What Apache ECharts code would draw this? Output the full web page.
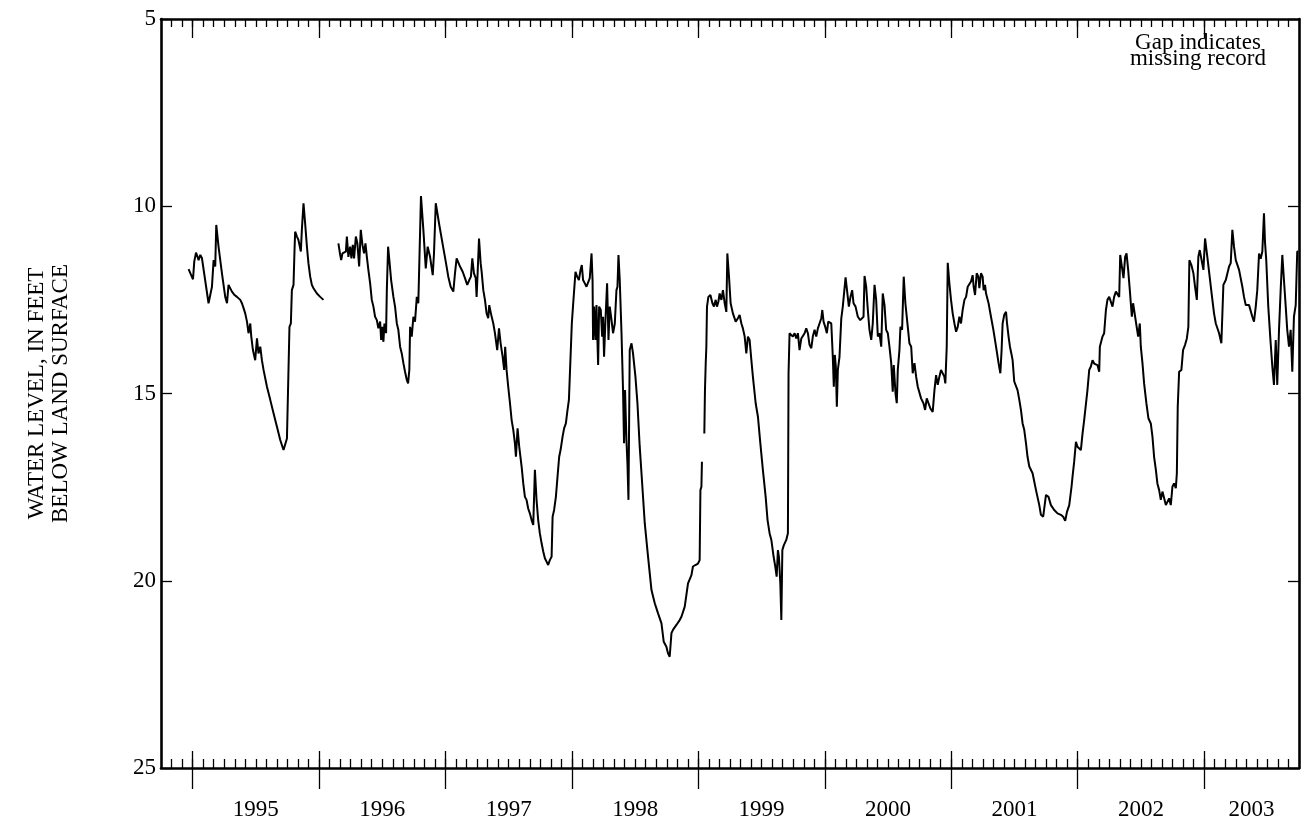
<!DOCTYPE html>
<html>
<head>
<meta charset="utf-8">
<script src="https://cdn.jsdelivr.net/npm/echarts@6/dist/echarts.min.js"></script>
<style>
  html, body { margin: 0; padding: 0; background: #fff; }
  #chart { width: 1302px; height: 826px; }
</style>
</head>
<body>
<div id="chart"></div>
<script>
// Water level, in feet below land surface, by decimal year.
// Three continuous stretches of record; the breaks between them are missing record.
const record1995 = [
  [1994.968,11.68],[1995.003,11.95],[1995.013,11.48],[1995.027,11.24],[1995.039,11.35],[1995.047,11.44],
  [1995.061,11.30],[1995.074,11.39],[1995.126,12.59],[1995.153,12.15],[1995.166,11.44],[1995.179,11.61],
  [1995.187,10.50],[1995.205,11.08],[1995.232,11.79],[1995.258,12.42],[1995.272,12.59],[1995.284,12.10],
  [1995.298,12.15],[1995.311,12.28],[1995.324,12.24],[1995.332,12.37],[1995.351,12.42],[1995.377,12.50],
  [1995.390,12.59],[1995.403,12.72],[1995.416,12.86],[1995.430,13.08],[1995.442,13.39],[1995.456,13.13],
  [1995.464,13.48],[1995.477,13.84],[1995.495,14.11],[1995.509,13.53],[1995.521,13.93],[1995.535,13.75],
  [1995.548,14.11],[1995.561,14.37],[1995.588,14.82],[1995.614,15.17],[1995.640,15.53],[1995.667,15.89],
  [1995.693,16.24],[1995.719,16.51],[1995.732,16.55],[1995.746,16.20],[1995.758,16.15],[1995.766,13.22],
  [1995.777,13.13],[1995.785,12.24],[1995.798,12.10],[1995.806,11.17],[1995.811,10.68],[1995.825,10.81],
  [1995.837,10.90],[1995.856,11.21],[1995.864,10.63],[1995.877,9.92],[1995.890,10.46],[1995.904,11.08],
  [1995.916,11.52],[1995.930,11.88],[1995.943,12.10],[1995.956,12.19],[1995.983,12.33],[1996.009,12.42],
  [1996.035,12.50]
];

const record1996to1998 = [
  [1996.153,10.99],[1996.167,11.30],[1996.175,11.44],[1996.185,11.26],[1996.198,11.30],[1996.212,11.21],
  [1996.220,10.81],[1996.232,11.35],[1996.246,11.08],[1996.256,11.39],[1996.267,11.03],[1996.277,11.39],
  [1996.291,10.81],[1996.303,10.99],[1996.317,11.61],[1996.330,10.63],[1996.343,11.03],[1996.356,11.26],
  [1996.367,10.99],[1996.378,11.35],[1996.390,11.70],[1996.404,12.06],[1996.417,12.50],[1996.430,12.68],
  [1996.443,12.95],[1996.457,13.04],[1996.469,13.26],[1996.483,13.08],[1996.491,13.57],[1996.501,13.22],
  [1996.509,13.62],[1996.517,13.13],[1996.530,13.39],[1996.536,12.24],[1996.546,11.08],[1996.556,11.44],
  [1996.570,11.97],[1996.588,12.42],[1996.601,12.68],[1996.615,13.13],[1996.627,13.30],[1996.641,13.75],
  [1996.654,13.93],[1996.667,14.19],[1996.680,14.42],[1996.694,14.64],[1996.704,14.73],[1996.714,14.37],
  [1996.720,13.22],[1996.733,13.48],[1996.746,12.95],[1996.759,13.08],[1996.773,12.42],[1996.785,12.59],
  [1996.799,12.59],[1996.806,9.73],[1996.825,10.63],[1996.844,11.66],[1996.859,11.08],[1996.878,11.35],
  [1996.899,11.84],[1996.909,11.26],[1996.923,9.92],[1996.935,9.97],[1996.951,10.50],[1996.964,10.55],
  [1996.983,11.12],[1997.004,11.52],[1997.022,11.88],[1997.041,12.15],[1997.062,12.28],[1997.075,11.79],
  [1997.088,11.39],[1997.101,11.35],[1997.115,11.61],[1997.136,11.75],[1997.154,11.92],[1997.172,12.10],
  [1997.188,11.97],[1997.201,11.88],[1997.212,11.39],[1997.225,11.79],[1997.239,11.92],[1997.246,12.42],
  [1997.254,11.79],[1997.265,10.86],[1997.278,11.52],[1997.286,11.75],[1997.299,12.24],[1997.312,12.50],
  [1997.325,12.86],[1997.338,12.99],[1997.346,12.64],[1997.359,12.86],[1997.378,13.13],[1997.391,13.39],
  [1997.409,13.84],[1997.423,13.26],[1997.436,13.66],[1997.452,14.02],[1997.464,14.37],[1997.472,13.75],
  [1997.483,14.37],[1997.496,14.82],[1997.510,15.26],[1997.523,15.71],[1997.536,15.97],[1997.549,16.33],
  [1997.557,16.69],[1997.570,15.93],[1997.583,16.42],[1997.602,16.95],[1997.615,17.40],[1997.628,17.76],
  [1997.641,17.84],[1997.654,18.07],[1997.667,18.20],[1997.681,18.38],[1997.694,18.51],[1997.707,17.04],
  [1997.720,17.84],[1997.733,18.38],[1997.746,18.73],[1997.760,19.00],[1997.773,19.22],[1997.786,19.40],
  [1997.799,19.49],[1997.812,19.58],[1997.825,19.45],[1997.839,19.36],[1997.847,18.29],[1997.859,18.11],
  [1997.873,17.76],[1997.886,17.22],[1997.899,16.69],[1997.910,16.51],[1997.926,16.15],[1997.938,15.93],
  [1997.952,15.80],[1997.965,15.44],[1997.976,15.17],[1997.983,14.55],[1997.991,13.84],[1997.999,13.13],
  [1998.009,12.64],[1998.017,12.60],[1998.028,11.75],[1998.041,11.88],[1998.055,11.97],[1998.068,11.70],
  [1998.078,11.57],[1998.088,11.97],[1998.102,12.06],[1998.115,12.15],[1998.128,12.10],[1998.141,11.92],
  [1998.155,11.26],[1998.163,11.97],[1998.167,13.57],[1998.175,12.68],[1998.186,13.57],[1998.194,12.64],
  [1998.207,14.24],[1998.215,12.68],[1998.228,12.77],[1998.239,13.48],[1998.246,12.95],[1998.254,14.02],
  [1998.265,13.04],[1998.278,12.06],[1998.289,13.57],[1998.299,12.68],[1998.313,13.04],[1998.325,13.39],
  [1998.339,13.13],[1998.352,12.24],[1998.360,12.15],[1998.368,11.30],[1998.378,11.97],[1998.392,13.39],
  [1998.404,14.91],[1998.412,16.33],[1998.420,14.91],[1998.431,16.24],[1998.439,16.87],[1998.447,17.84],
  [1998.457,13.84],[1998.471,13.66],[1998.483,13.93],[1998.502,14.55],[1998.518,15.26],[1998.536,16.42],
  [1998.550,17.13],[1998.576,18.47],[1998.602,19.36],[1998.629,20.25],[1998.655,20.60],[1998.681,20.87],
  [1998.708,21.14],[1998.726,21.63],[1998.747,21.76],[1998.760,21.94],[1998.773,22.03],[1998.787,21.40],
  [1998.799,21.31],[1998.826,21.18],[1998.852,21.05],[1998.866,20.96],[1998.892,20.69],[1998.918,20.07],
  [1998.945,19.85],[1998.957,19.62],[1998.976,19.58],[1998.997,19.54],[1999.010,19.45],[1999.016,17.58],
  [1999.024,17.49],[1999.028,16.82]
];

const record1999to2003 = [
  [1999.047,16.07],[1999.052,14.91],[1999.058,14.19],[1999.063,13.75],[1999.068,12.68],[1999.079,12.42],
  [1999.095,12.37],[1999.111,12.59],[1999.123,12.68],[1999.137,12.50],[1999.147,12.68],[1999.158,12.55],
  [1999.168,12.33],[1999.182,12.50],[1999.194,12.24],[1999.208,12.59],[1999.221,12.82],[1999.229,11.26],
  [1999.242,11.88],[1999.255,12.59],[1999.273,12.86],[1999.295,13.08],[1999.313,12.99],[1999.326,12.90],
  [1999.340,13.13],[1999.352,13.26],[1999.366,13.48],[1999.379,13.93],[1999.392,13.48],[1999.405,13.57],
  [1999.419,14.11],[1999.431,14.55],[1999.453,15.26],[1999.471,15.62],[1999.490,16.33],[1999.510,17.04],
  [1999.532,17.76],[1999.547,18.38],[1999.563,18.73],[1999.577,18.91],[1999.595,19.36],[1999.608,19.62],
  [1999.619,19.89],[1999.629,19.18],[1999.637,19.36],[1999.648,20.07],[1999.656,21.05],[1999.664,19.18],
  [1999.676,19.05],[1999.695,18.91],[1999.708,18.73],[1999.713,14.46],[1999.721,13.39],[1999.735,13.35],
  [1999.747,13.48],[1999.761,13.39],[1999.774,13.53],[1999.787,13.39],[1999.800,13.84],[1999.814,13.53],
  [1999.826,13.57],[1999.840,13.39],[1999.853,13.26],[1999.866,13.39],[1999.879,13.70],[1999.893,13.79],
  [1999.905,13.48],[1999.919,13.30],[1999.932,13.48],[1999.945,13.26],[1999.958,13.13],[1999.972,12.99],
  [1999.980,12.77],[1999.990,13.08],[2000.003,13.22],[2000.016,13.39],[2000.027,13.08],[2000.037,13.04],
  [2000.051,13.13],[2000.063,14.02],[2000.071,14.82],[2000.079,13.97],[2000.087,14.28],[2000.095,15.35],
  [2000.103,14.37],[2000.116,14.02],[2000.130,13.00],[2000.142,12.68],[2000.164,11.90],[2000.174,12.20],
  [2000.190,12.68],[2000.203,12.42],[2000.216,12.24],[2000.227,12.59],[2000.243,12.68],[2000.261,12.95],
  [2000.280,13.04],[2000.292,13.08],[2000.306,12.95],[2000.314,11.86],[2000.327,12.15],[2000.340,12.77],
  [2000.353,13.30],[2000.367,13.57],[2000.379,13.13],[2000.393,12.10],[2000.406,12.50],[2000.419,13.48],
  [2000.432,13.39],[2000.446,13.75],[2000.458,12.33],[2000.472,12.64],[2000.485,13.30],[2000.498,13.39],
  [2000.511,13.75],[2000.525,14.19],[2000.537,14.95],[2000.545,14.24],[2000.559,15.00],[2000.569,15.26],
  [2000.577,14.37],[2000.590,13.84],[2000.598,13.22],[2000.611,13.30],[2000.624,11.88],[2000.637,12.59],
  [2000.656,13.22],[2000.669,13.66],[2000.683,13.75],[2000.695,14.46],[2000.709,14.19],[2000.722,14.55],
  [2000.735,14.82],[2000.761,15.13],[2000.780,15.26],[2000.793,15.44],[2000.806,15.13],[2000.821,15.17],
  [2000.835,15.40],[2000.853,15.49],[2000.867,14.91],[2000.880,14.51],[2000.893,14.77],[2000.906,14.55],
  [2000.919,14.37],[2000.932,14.42],[2000.945,14.55],[2000.953,14.73],[2000.964,13.75],[2000.972,11.51],
  [2000.985,12.06],[2000.998,12.50],[2001.011,12.86],[2001.025,13.13],[2001.038,13.35],[2001.051,13.22],
  [2001.064,12.95],[2001.077,13.13],[2001.090,12.77],[2001.104,12.50],[2001.117,12.42],[2001.130,12.15],
  [2001.143,12.19],[2001.156,12.01],[2001.169,11.84],[2001.177,12.15],[2001.188,12.37],[2001.201,11.79],
  [2001.214,11.88],[2001.222,12.19],[2001.235,11.79],[2001.248,11.88],[2001.256,12.24],[2001.267,12.10],
  [2001.275,12.33],[2001.295,12.59],[2001.314,12.95],[2001.333,13.30],[2001.354,13.75],[2001.374,14.19],
  [2001.388,14.46],[2001.398,13.84],[2001.406,13.13],[2001.419,12.90],[2001.433,12.82],[2001.441,13.13],
  [2001.453,13.48],[2001.464,13.75],[2001.475,13.93],[2001.485,14.11],[2001.498,14.68],[2001.512,14.73],
  [2001.524,14.91],[2001.538,15.17],[2001.551,15.44],[2001.564,15.80],[2001.577,15.97],[2001.591,16.33],
  [2001.603,16.69],[2001.617,16.95],[2001.630,16.90],[2001.643,17.13],[2001.670,17.58],[2001.696,17.98],
  [2001.709,18.24],[2001.727,18.29],[2001.749,17.71],[2001.769,17.76],[2001.788,17.98],[2001.814,18.11],
  [2001.840,18.20],[2001.867,18.24],[2001.885,18.29],[2001.901,18.40],[2001.915,18.16],[2001.933,17.98],
  [2001.951,17.49],[2001.959,17.22],[2001.972,16.82],[2001.986,16.29],[2001.998,16.42],[2002.025,16.51],
  [2002.038,16.07],[2002.051,15.71],[2002.077,14.91],[2002.091,14.37],[2002.104,14.28],[2002.117,14.11],
  [2002.130,14.20],[2002.156,14.24],[2002.170,14.42],[2002.175,13.75],[2002.196,13.48],[2002.209,13.39],
  [2002.223,12.77],[2002.235,12.50],[2002.249,12.42],[2002.275,12.68],[2002.288,12.42],[2002.302,12.28],
  [2002.328,12.42],[2002.336,11.30],[2002.349,11.26],[2002.362,11.92],[2002.375,11.35],[2002.386,11.26],
  [2002.399,11.70],[2002.412,12.24],[2002.428,12.95],[2002.438,12.59],[2002.454,12.95],[2002.478,13.48],
  [2002.491,13.13],[2002.499,13.75],[2002.512,14.19],[2002.525,14.73],[2002.543,15.26],[2002.559,15.66],
  [2002.578,15.80],[2002.591,16.15],[2002.604,16.69],[2002.618,17.04],[2002.630,17.40],[2002.644,17.58],
  [2002.657,17.84],[2002.670,17.62],[2002.697,17.98],[2002.709,18.02],[2002.723,17.80],[2002.736,17.98],
  [2002.749,17.49],[2002.762,17.40],[2002.776,17.53],[2002.784,17.13],[2002.791,15.35],[2002.802,14.42],
  [2002.820,14.37],[2002.833,13.84],[2002.849,13.70],[2002.863,13.53],[2002.875,13.22],[2002.883,11.44],
  [2002.899,11.57],[2002.915,11.79],[2002.928,12.15],[2002.942,12.50],[2002.954,11.35],[2002.965,11.17],
  [2002.994,11.70],[2003.007,10.86],[2003.025,11.35],[2003.065,12.50],[2003.078,12.86],[2003.092,13.13],
  [2003.118,13.39],[2003.136,13.66],[2003.152,12.10],[2003.171,11.97],[2003.197,11.61],[2003.210,11.52],
  [2003.223,10.63],[2003.236,11.08],[2003.250,11.44],[2003.276,11.70],[2003.302,12.15],[2003.315,12.42],
  [2003.329,12.64],[2003.355,12.64],[2003.381,12.95],[2003.394,13.08],[2003.408,12.68],[2003.420,12.24],
  [2003.434,11.26],[2003.447,11.40],[2003.460,11.21],[2003.473,10.19],[2003.481,10.95],[2003.491,11.44],
  [2003.507,12.68],[2003.526,13.66],[2003.539,14.28],[2003.552,14.77],[2003.566,13.57],[2003.578,14.77],
  [2003.592,13.30],[2003.605,12.24],[2003.618,11.30],[2003.631,11.97],[2003.645,12.68],[2003.657,13.30],
  [2003.671,13.75],[2003.684,13.30],[2003.697,14.42],[2003.710,12.95],[2003.724,12.64],[2003.736,11.21],
  [2003.744,11.21]
];

// Axis extent (water years 1995-2003) and tick labels
const axisStart = 1994.75;
const axisEnd = 2003.75;
const yearTicks = [1995, 1996, 1997, 1998, 1999, 2000, 2001, 2002, 2003];
const yearLabels = ['1995', '1996', '1997', '1998', '1999', '2000', '2001', '2002', '2003'];
const yearLabelAt = [1995.5, 1996.5, 1997.5, 1998.5, 1999.5, 2000.5, 2001.5, 2002.5, 2003.375];
const levelMin = 5, levelMax = 25, levelStep = 5;

// Monthly minor ticks
const monthTicks = [];
for (let k = 1; k < 108; k++) monthTicks.push(axisStart + k / 12);

// Join the stretches of record, breaking the line where record is missing
const lineData = [].concat(
  record1995, [[1996.09, null]],
  record1996to1998, [[1999.037, null]],
  record1999to2003
);

const FONT = "'Liberation Serif', 'Times New Roman', serif";
const INK = '#000';
const tickStyle = { color: INK, width: 1.3 };
const frameStyle = { color: INK, width: 2.6 };

function xBase(position) {
  return {
    type: 'value', gridIndex: 0, position: position,
    min: axisStart, max: axisEnd,
    splitLine: { show: false },
    axisLine: { show: false, onZero: false },
    axisLabel: { show: false },
    axisTick: { show: false }
  };
}

const xAxes = [
  // bottom frame line, monthly ticks and year labels
  Object.assign(xBase('bottom'), {
    axisLine: { show: true, onZero: false, lineStyle: frameStyle },
    axisTick: { show: true, inside: true, length: 9, customValues: monthTicks, lineStyle: tickStyle },
    axisLabel: {
      show: true, customValues: yearLabelAt, margin: 30,
      fontSize: 23, fontFamily: FONT, color: INK,
      formatter: function (v) {
        const i = yearLabelAt.findIndex(p => Math.abs(p - v) < 1e-6);
        return i >= 0 ? yearLabels[i] : '';
      }
    }
  }),
  // bottom year ticks, inner part
  Object.assign(xBase('bottom'), {
    axisTick: { show: true, inside: true, length: 17, customValues: yearTicks, lineStyle: tickStyle }
  }),
  // bottom year ticks, outer part
  Object.assign(xBase('bottom'), {
    axisTick: { show: true, inside: false, length: 21, customValues: yearTicks, lineStyle: tickStyle }
  }),
  // top frame line with monthly ticks
  Object.assign(xBase('top'), {
    axisLine: { show: true, onZero: false, lineStyle: frameStyle },
    axisTick: { show: true, inside: true, length: 8, customValues: monthTicks, lineStyle: tickStyle }
  }),
  // top year ticks
  Object.assign(xBase('top'), {
    axisTick: { show: true, inside: true, length: 19, customValues: yearTicks, lineStyle: tickStyle }
  })
];

const yAxes = [
  {
    type: 'value', position: 'left', inverse: true,
    min: levelMin, max: levelMax, interval: levelStep,
    axisLine: { show: true, onZero: false, lineStyle: frameStyle },
    axisTick: { show: true, inside: true, length: 11, lineStyle: tickStyle },
    axisLabel: { fontSize: 23, fontFamily: FONT, color: INK, margin: 5 },
    splitLine: { show: false },
    name: 'WATER LEVEL, IN FEET\nBELOW LAND SURFACE',
    nameLocation: 'middle', nameRotate: 90, nameGap: 88,
    nameTextStyle: { fontSize: 23, lineHeight: 24, fontFamily: FONT, color: INK }
  },
  {
    type: 'value', position: 'right', inverse: true,
    min: levelMin, max: levelMax, interval: levelStep,
    axisLine: { show: true, onZero: false, lineStyle: frameStyle },
    axisTick: { show: true, inside: true, length: 11, lineStyle: tickStyle },
    axisLabel: { show: false },
    splitLine: { show: false }
  }
];

const chart = echarts.init(document.getElementById('chart'), null, { renderer: 'canvas' });
chart.setOption({
  animation: false,
  backgroundColor: '#fff',
  grid: { left: 161, top: 19, width: 1138, height: 749, containLabel: false },
  xAxis: xAxes,
  yAxis: yAxes,
  graphic: [{
    type: 'text', x: 1198, y: 35,
    style: {
      text: 'Gap indicates\nmissing record',
      font: '23px ' + FONT, fill: INK,
      align: 'center', verticalAlign: 'top', lineHeight: 16
    }
  }],
  series: [{
    type: 'line', xAxisIndex: 0, yAxisIndex: 0,
    data: lineData,
    showSymbol: false, connectNulls: false, silent: true,
    lineStyle: { color: INK, width: 2 }
  }]
});
</script>
</body>
</html>
